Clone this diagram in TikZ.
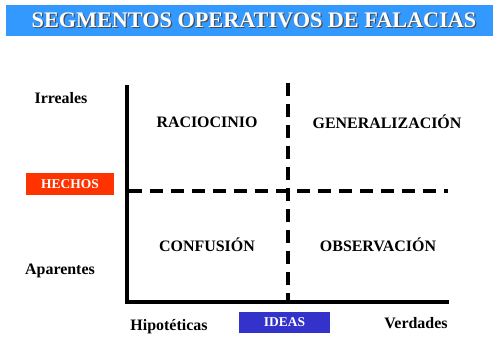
\documentclass[tikz,border=0pt]{standalone}
\usepackage{fontspec}
\setmainfont{Liberation Serif}[BoldFont={Liberation Serif Bold}]
\definecolor{titleblue}{RGB}{51,153,255}
\definecolor{hechosred}{RGB}{255,51,0}
\definecolor{ideasblue}{RGB}{51,51,204}
\begin{document}
\begin{tikzpicture}[x=1bp,y=-1bp,
  lbl/.style={font=\rmfamily\fontsize{16}{16}\selectfont\bfseries, inner sep=0pt},
  tag/.style={font=\rmfamily\fontsize{13.5}{13.5}\selectfont\bfseries, text=white, inner sep=0pt},
  axis/.style={line width=4bp},
  divider/.style={line width=4bp, dash pattern=on 13bp off 8bp}]
\useasboundingbox (0,0) rectangle (493,337);
% title bar
\fill[titleblue] (6,5) rectangle (493,36);
\node[font=\rmfamily\fontsize{22.3}{22.3}\selectfont\bfseries, text=black!70, inner sep=0pt] (titleshadow) at (255.2,21.2) {SEGMENTOS OPERATIVOS DE FALACIAS};
\node[font=\rmfamily\fontsize{22.3}{22.3}\selectfont\bfseries, text=white, inner sep=0pt] (title) at (254,20) {SEGMENTOS OPERATIVOS DE FALACIAS};
% axes
\coordinate (ytop) at (127,85);
\coordinate (origin) at (127,301.5);
\coordinate (xend) at (449,301.5);
\draw[axis] (ytop) -- (origin) -- (xend);
% dividers
\coordinate (hstart) at (129,191);
\coordinate (hend) at (448,191);
\coordinate (vtop) at (288,83);
\coordinate (vbot) at (288,300);
\draw[divider] (hstart) -- (hend);
\draw[divider] (vtop) -- (vbot);
% quadrant labels
\node[lbl] (raciocinio) at (207,122) {RACIOCINIO};
\node[lbl] (generalizacion) at (387,122) {GENERALIZACIÓN};
\node[lbl] (confusion) at (207,245) {CONFUSIÓN};
\node[lbl] (observacion) at (378,245) {OBSERVACIÓN};
% axis labels
\node[lbl] (irreales) at (61,98) {Irreales};
\node[lbl] (aparentes) at (60,271) {Aparentes};
\node[lbl] (hipoteticas) at (169,327) {Hipotéticas};
\node[lbl] (verdades) at (416,323) {Verdades};
% tags
\fill[hechosred] (26,173) rectangle (114,195);
\node[tag] (hechos) at (70,184) {HECHOS};
\fill[ideasblue] (239,312) rectangle (330,333);
\node[tag] (ideas) at (284.5,322.5) {IDEAS};
\end{tikzpicture}
\end{document}
